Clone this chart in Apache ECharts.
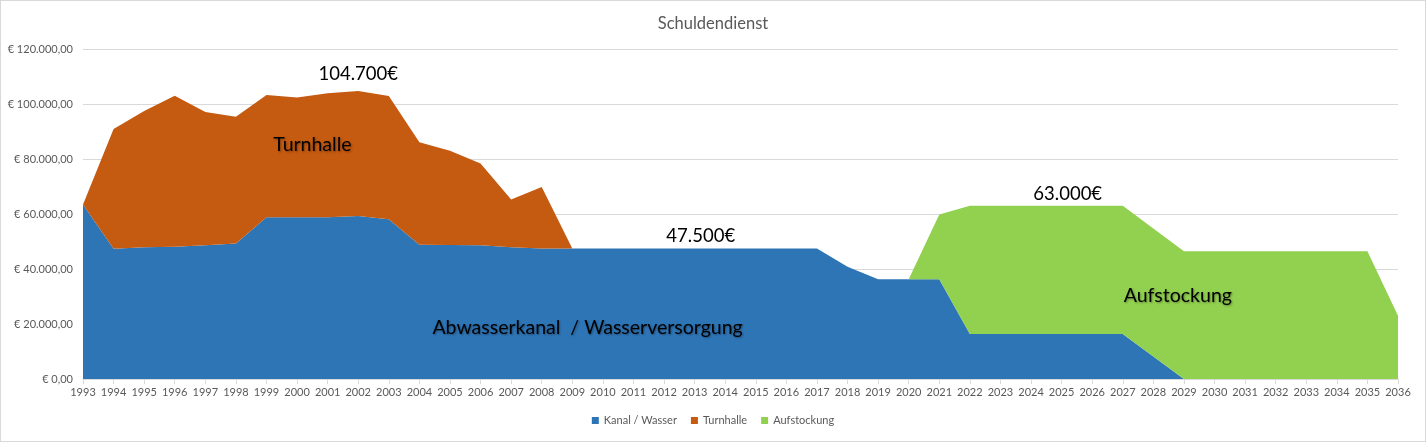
<!DOCTYPE html>
<html>
<head>
<meta charset="utf-8">
<script src="https://cdn.jsdelivr.net/npm/echarts@6/dist/echarts.min.js"></script>
<style>
html,body{margin:0;padding:0;background:#fff;}
#wrap{width:1426px;height:442px;box-sizing:border-box;border:1px solid #d9d9d9;}
#chart{width:1424px;height:440px;}
</style>
</head>
<body>
<div id="wrap"><div id="chart"></div></div>
<script>
const years = [];
for (let y = 1993; y <= 2036; y++) years.push(String(y));

const kanal = [63500,47400,47900,48100,48600,49300,58800,58800,58800,59300,58100,48800,48700,48600,47900,47500,
  47500,47500,47500,47500,47500,47500,47500,47500,47500,
  40800,36300,36300,36300,
  16400,16400,16400,16400,16400,16400,
  8200,
  0,0,0,0,0,0,0,0];

const turnhalle = [0,43500,49600,54900,48500,46100,44500,43600,45100,45400,44800,37300,34300,29800,17400,22300,
  0,null,null,null,null,null,null,null,null,
  null,null,null,null,
  null,null,null,null,null,null,
  null,
  null,null,null,null,null,null,null,null];

const aufstockung = [null,null,null,null,null,null,null,null,null,null,null,null,null,null,null,null,
  null,null,null,null,null,null,null,null,null,
  null,null,0,23500,
  46600,46600,46600,46600,46600,46600,
  46500,
  46500,46500,46500,46500,46500,46500,46500,23000];

const seriesNames = ['Kanal / Wasser','Turnhalle','Aufstockung'];
const colors = ['#2e75b6','#c55a11','#92d050'];

// annotations: text, year position (fractional), value, shadow, size
const annotations = [
  {text:'104.700€', year:2002, value:110800, shadow:false, size:18.5},
  {text:'47.500€', year:2013.2, value:51900, shadow:false, size:18.5},
  {text:'63.000€', year:2025.2, value:67300, shadow:false, size:18.5},
  {text:'Turnhalle', year:2000.5, value:85100, shadow:true, size:19.5},
  {text:'Abwasserkanal  / Wasserversorgung', year:2009.5, value:18500, shadow:true, size:19.5},
  {text:'Aufstockung', year:2028.8, value:30200, shadow:true, size:19.5}
];

function fmt(v){
  const s = String(Math.round(v));
  const withDots = s.replace(/\B(?=(\d{3})+(?!\d))/g, '.');
  return '€ ' + withDots + ',00';
}

const chart = echarts.init(document.getElementById('chart'));
const series = [kanal, turnhalle, aufstockung].map((d, i) => ({
  name: seriesNames[i],
  type: 'line',
  stack: 'total',
  data: d,
  symbol: 'none',
  showSymbol: false,
  lineStyle: {width: 0},
  areaStyle: {color: colors[i], opacity: 1},
  itemStyle: {color: colors[i]},
  emphasis: {disabled: true}
}));

chart.setOption({
  animation: false,
  title: {
    text: 'Schuldendienst', left: 'center', top: 9,
    textStyle: {fontFamily: 'Lato', fontSize: 16.5, fontWeight: 'normal', color: '#595959'}
  },
  legend: {
    data: seriesNames, bottom: 10, left: 'center',
    icon: 'rect', itemWidth: 7, itemHeight: 7, itemGap: 14,
    textStyle: {fontFamily: 'Lato', fontSize: 11, color: '#595959'}
  },
  grid: {left: 82, right: 27, top: 48, bottom: 62},
  xAxis: {
    type: 'category', data: years, boundaryGap: false,
    axisLine: {lineStyle: {color: '#d9d9d9'}},
    axisTick: {length: 5, lineStyle: {color: '#d9d9d9'}},
    axisLabel: {interval: 0, color: '#595959', fontSize: 11, fontFamily: 'Lato', margin: 8}
  },
  yAxis: {
    type: 'value', min: 0, max: 120000, interval: 20000,
    axisLine: {show: false}, axisTick: {show: false},
    axisLabel: {formatter: fmt, color: '#595959', fontSize: 11, fontFamily: 'Lato', margin: 10},
    splitLine: {lineStyle: {color: '#d9d9d9'}}
  },
  series: series
});

function px(year, value){
  const i0 = Math.floor(year - 1993), f = (year - 1993) - i0;
  const p0 = chart.convertToPixel({gridIndex: 0}, [i0, value]);
  const i1 = Math.min(i0 + 1, years.length - 1);
  const p1 = chart.convertToPixel({gridIndex: 0}, [i1, value]);
  return [p0[0] + (p1[0] - p0[0]) * f, p0[1]];
}

chart.setOption({
  graphic: annotations.map(a => {
    const p = px(a.year, a.value);
    const st = {
      text: a.text, fill: '#000', fontFamily: 'Lato', fontSize: a.size,
      align: 'center', verticalAlign: 'middle',
      textAlign: 'center', textVerticalAlign: 'middle'
    };
    if (a.shadow) {
      st.textShadowColor = 'rgba(0,0,0,0.35)';
      st.textShadowBlur = 2;
      st.textShadowOffsetX = 1;
      st.textShadowOffsetY = 1;
    }
    return {type: 'text', x: p[0], y: p[1], silent: true, z: 100, style: st};
  })
});
</script>
</body>
</html>
